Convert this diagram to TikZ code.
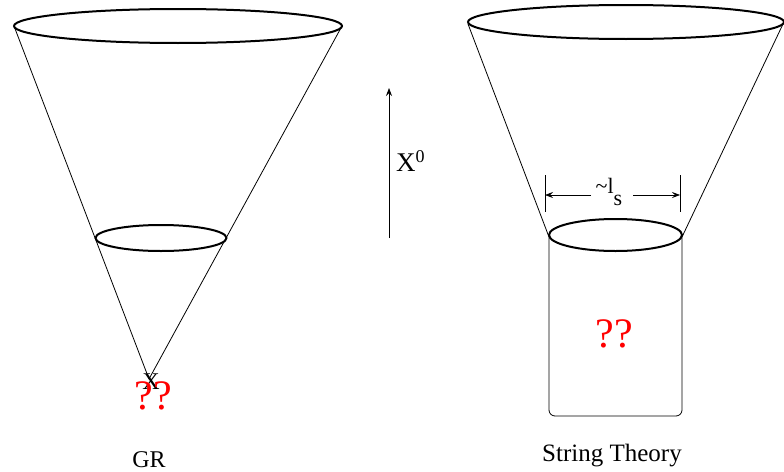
\documentclass[tikz,border=0pt]{standalone}
\usepackage{fontspec}
\setmainfont{Liberation Serif}
\usetikzlibrary{arrows.meta}
\begin{document}
\begin{tikzpicture}[x=1pt,y=-1pt,
  thin line/.style={line width=0.8pt},
  ring/.style={line width=2pt},
  qq/.style={text=red,font=\fontsize{42}{42}\selectfont,inner sep=0pt,anchor=base},
  lbl/.style={font=\fontsize{24}{24}\selectfont,inner sep=0pt,anchor=base},
  arr/.style={-{Stealth[length=8pt,width=6pt,inset=3pt]},line width=0.7pt}]
\useasboundingbox (0,0) rectangle (784,471);
% Left cone (GR)
\coordinate (lt1) at (14,26);
\coordinate (lt2) at (342,26);
\coordinate (apex) at (149,379);
\draw[thin line] (lt1) -- (apex);
\draw[thin line] (lt2) -- (apex);
\draw[ring,fill=white] (178,26) ellipse [x radius=164, y radius=17];
\draw[ring] (161,238) ellipse [x radius=65.5, y radius=13];
\node[lbl] (xa) at (151,389) {X};
\node[qq] (q1) at (153,409) {??};
\node[lbl] (gr) at (149,467) {GR};
% time arrow
\coordinate (a0) at (389,238);
\coordinate (a1) at (389,88);
\draw[arr] (a0) -- (a1);
\node[lbl,anchor=base west,font=\fontsize{27}{27}\selectfont] (x0) at (396,171) {X\raisebox{0.7ex}{\fontsize{18}{18}\selectfont 0}};
% Right cone (string theory)
\coordinate (rt1) at (468,24);
\coordinate (rt2) at (783,24);
\coordinate (rm1) at (549,237);
\coordinate (rm2) at (682,237);
\draw[thin line] (rt1) -- (rm1);
\draw[thin line] (rt2) -- (rm2);
\draw[thin line,rounded corners=6pt] (rm1) -- (549,416) -- (682,416) -- (rm2);
\draw[ring,fill=white] (626,22) ellipse [x radius=158, y radius=17];
\draw[ring,fill=white] (615.5,235) ellipse [x radius=66.5, y radius=16];
% dimension
\coordinate (d1a) at (545,175);
\coordinate (d1b) at (545,212);
\coordinate (d2a) at (680,175);
\coordinate (d2b) at (680,212);
\draw[thin line] (d1a) -- (d1b);
\draw[thin line] (d2a) -- (d2b);
\node[lbl,font=\fontsize{22}{22}\selectfont] (ls) at (609,193) {\textasciitilde l\raisebox{-0.55em}{s}};
\coordinate (da) at (545,195);
\coordinate (db) at (680,195);
\draw[arr] (591,195) -- (da);
\draw[arr] (633,195) -- (db);
\node[qq] (q2) at (614,347) {??};
\node[lbl,font=\fontsize{25}{25}\selectfont] (st) at (612,461) {String Theory};
\end{tikzpicture}
\end{document}
